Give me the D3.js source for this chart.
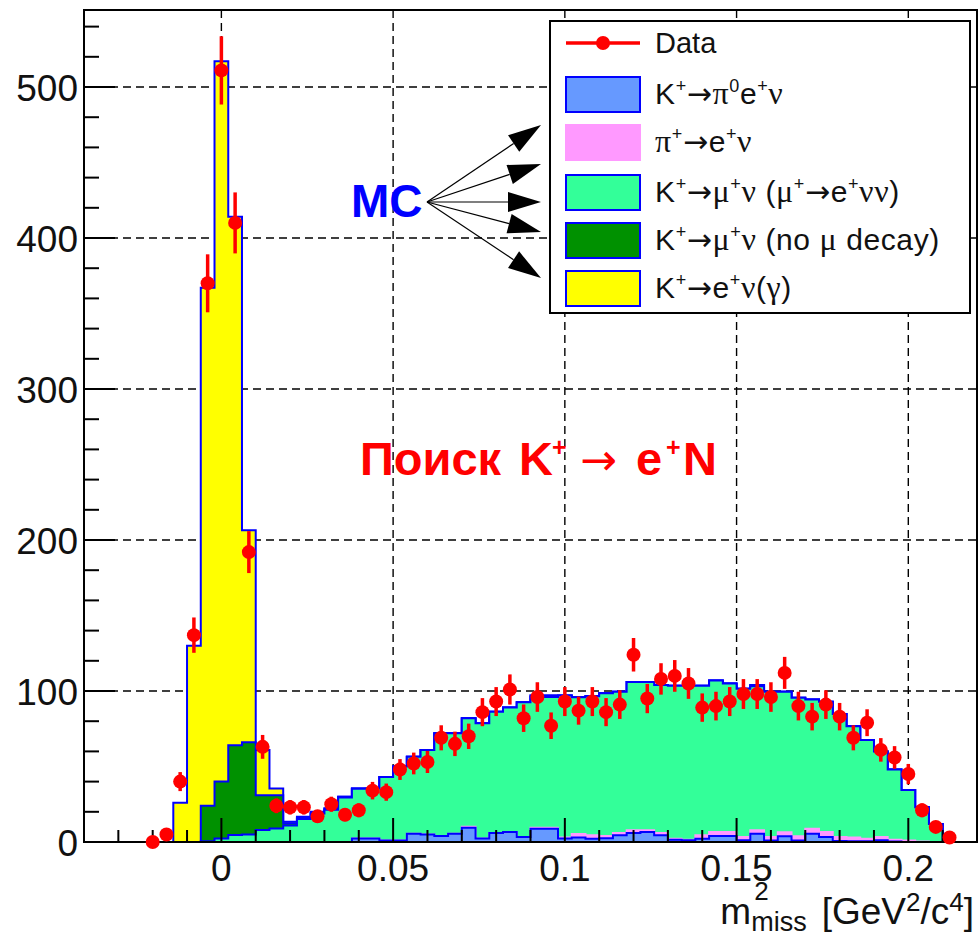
<!DOCTYPE html>
<html><head><meta charset="utf-8">
<script src="https://cdn.jsdelivr.net/npm/d3@7"></script>
<style>
body{margin:0;background:#fff;}
svg{display:block;}
text{font-family:"Liberation Sans",Arial,Helvetica,sans-serif;}
.gk{font-family:"Liberation Serif","DejaVu Serif",serif;}
.ar{font-family:"DejaVu Sans",sans-serif;}
</style>
</head><body>
<svg id="chart" width="980" height="935"></svg>
<script>
// ---------------- data ----------------
const binWidth = 0.004;
const binCenters = [-0.020,-0.016,-0.012,-0.008,-0.004,0.000,0.004,0.008,0.012,0.016,
  0.020,0.024,0.028,0.032,0.036,0.040,0.044,0.048,0.052,0.056,
  0.060,0.064,0.068,0.072,0.076,0.080,0.084,0.088,0.092,0.096,
  0.100,0.104,0.108,0.112,0.116,0.120,0.124,0.128,0.132,0.136,
  0.140,0.144,0.148,0.152,0.156,0.160,0.164,0.168,0.172,0.176,
  0.180,0.184,0.188,0.192,0.196,0.200,0.204,0.208,0.212];
const dataCounts = [0,5,40,137,370,511,410,192,63,24,
  23,23,17,25,18,21,34,33,48,52,
  53,69,65,70,86,93,101,82,96,77,
  93,87,93,86,91,124,95,108,110,105,
  89,90,93,98,98,96,112,90,83,91,
  83,69,79,61,56,45,21,10,3];
const dataErrors = [0,2.2,6.3,11.7,19.2,22.6,20.2,13.9,7.9,4.9,
  4.8,4.8,4.1,5.0,4.2,4.6,5.8,5.7,6.9,7.2,
  7.3,8.3,8.1,8.4,9.3,9.6,10.0,9.1,9.8,8.8,
  9.6,9.3,9.6,9.3,9.5,11.1,9.7,10.4,10.5,10.2,
  9.4,9.5,9.6,9.9,9.9,9.8,10.6,9.5,9.1,9.5,
  9.1,8.3,8.9,7.8,7.5,6.7,4.6,3.2,1.7];
// MC components (stacked bottom -> top)
const mcPi0ENu = [0,0,0,0,0,0,0,0,0,0,
  0,0,0,0,0,2.4,2.4,1,1,5.5,
  5,4,5.5,9.5,2.4,6,6.6,3.3,8.8,8.8,
  2.4,3,2.2,2.5,4.4,6,6.6,4.4,1.5,1.1,
  2.2,4,4,1.1,5.5,1,3.8,1,5.5,3.3,
  0.7,0.5,0.5,1.1,0.4,0,0,0,0];
const mcPiENu = [0,0,0,0,0,0,0,0,0,0,
  0,0,0,0,0,0,0,0,0,0,
  0,0,0,0.6,0,0,0,0,0.6,0.6,
  0.5,2.3,2.2,1.5,1.6,1.7,1.1,1.6,0.7,0.4,
  2.2,2.6,2.6,2.2,2.3,2.3,2.7,2.8,3.2,3.3,
  2.6,2.4,1.7,2.2,1.1,1.0,0.3,0,0];
const mcMuNuMuDecay = [0,0,0,0,0.5,2.4,4.6,5.0,8,9,
  11,15.3,18.8,21.4,29.5,32.8,33.1,42,49,51,
  56,68,66.5,71.9,76.2,80.3,82.4,89.2,86.6,86.6,
  94.1,90.5,92.1,94.5,93.5,98.3,98.3,98,101.3,102,
  99.1,100.4,98.4,98.2,95.4,96.2,93,91.7,85.6,86.3,
  81.4,73.8,65.3,56.7,46.5,33.4,22.7,12,0];
const mcMuNuNoDecay = [0,0,0,0,23.5,37.6,59.4,61,23,22,
  1.5,1.0,0.8,0.6,0.5,0.3,0,0,0,0,
  0,0,0,0,0,0,0,0,1,1,
  0,0,0,0,0,0,0,0,0,0,
  0,0,0,0,0.8,0,0,0,0,0,
  0,0,0,0,0,0,0,0,0];
const mcENuGamma = [0,0,26,130,343,477,350,140.5,30,4.5,
  0.9,0.5,0.4,0.3,0,0,0,0,0,0,
  0,0,0,0,0,0,0,0,0,0,
  0,0,0,0,0,0,0,0,0,0,
  0,0,0,0,0,0,0,0,0,0,
  0,0,0,0,0,0,0,0,0];

const xMajorTicks = [0,0.05,0.1,0.15,0.2];
const xTickLabels = ["0","0.05","0.1","0.15","0.2"];
const yMajorTicks = [0,100,200,300,400,500];
const yTickLabels = ["0","100","200","300","400","500"];

// ---------------- layout ----------------
const svg = d3.select("#chart");
const L = 84, R = 977, T = 10, B = 842;
const x = d3.scaleLinear().domain([-0.04, 0.22]).range([L, R]);
const y = d3.scaleLinear().domain([0, 551]).range([B, T]);

// grid
const grid = svg.append("g").attr("stroke","#000").attr("stroke-width",1.4).attr("stroke-dasharray","8,5");
xMajorTicks.forEach(v=>grid.append("line").attr("x1",x(v)).attr("x2",x(v)).attr("y1",T).attr("y2",B));
yMajorTicks.filter(v=>v>0).forEach(v=>grid.append("line").attr("x1",L).attr("x2",R).attr("y1",y(v)).attr("y2",y(v)));

// stacked MC
const layers = [
  {vals: mcPi0ENu,      fill:"#6699ff", stroke:"#0000ff"},
  {vals: mcPiENu,       fill:"#ff99ff", stroke:"#ff99ff"},
  {vals: mcMuNuMuDecay, fill:"#33ff99", stroke:"#0000ff"},
  {vals: mcMuNuNoDecay, fill:"#009100", stroke:"#0000ff"},
  {vals: mcENuGamma,    fill:"#ffff00", stroke:"#0000ff"}
];
let cum = binCenters.map(()=>0);
layers.forEach(l=>{ cum = cum.map((c,i)=>c+l.vals[i]); l.cum = cum; });
const hist = svg.append("g");
const areaGen = d3.area().x(d=>x(d[0])).y0(y(0)).y1(d=>y(d[1]));
const lineGen = d3.line().x(d=>x(d[0])).y(d=>y(d[1]));
layers.slice().reverse().forEach(l=>{
  const pts = [];
  binCenters.forEach((c,i)=>{ pts.push([c-binWidth/2, l.cum[i]], [c+binWidth/2, l.cum[i]]); });
  hist.append("path").attr("d", areaGen(pts)).attr("fill", l.fill);
  const outline = [[pts[0][0],0], ...pts, [pts[pts.length-1][0],0]];
  hist.append("path").attr("d", lineGen(outline)).attr("fill","none")
      .attr("stroke", l.stroke).attr("stroke-width",2);
});

// frame and axes
const ax = svg.append("g").attr("stroke","#000");
ax.append("rect").attr("x",L).attr("y",T).attr("width",R-L).attr("height",B-T)
  .attr("fill","none").attr("stroke-width",2);
d3.range(0, 551, 20).forEach(v=>{
  const major = v % 100 === 0;
  ax.append("line").attr("x1",L).attr("x2",L+(major?31:15)).attr("y1",y(v)).attr("y2",y(v)).attr("stroke-width",2);
});
d3.range(-40, 221, 10).forEach(m=>{
  const v = m/1000;
  const major = m % 50 === 0;
  ax.append("line").attr("x1",x(v)).attr("x2",x(v)).attr("y1",B).attr("y2",B-(major?24:12)).attr("stroke-width",2);
});
yMajorTicks.forEach((v,i)=>svg.append("text").attr("x",78).attr("y",y(v)+14)
  .attr("text-anchor","end").attr("font-size",37).attr("fill","#111").text(yTickLabels[i]));
xMajorTicks.forEach((v,i)=>svg.append("text").attr("x",x(v)).attr("y",881)
  .attr("text-anchor","middle").attr("font-size",37).attr("fill","#111").text(xTickLabels[i]));

// x-axis title: m^2_miss [GeV^2/c^4]
(function(){
  const g = svg.append("g").attr("fill","#111");
  const base = 924, fsMain = 37, fsSmall = 26;
  function mk(t, fs){ const el = g.append("text").attr("font-size",fs).text(t); return {el, w: el.node().getComputedTextLength()}; }
  const pm = mk("m", fsMain), p2 = mk("2", fsSmall), pmiss = mk("miss", 27);
  const seq = [[mk("[GeV", fsMain),0],[mk("2", fsSmall),-13],[mk("/c", fsMain),0],[mk("4", fsSmall),-13],[mk("]", fsMain),0]];
  const gap = 15;
  const total = pm.w + Math.max(p2.w, pmiss.w) + gap + seq.reduce((s,p)=>s+p[0].w,0);
  let cx = 974 - total;
  pm.el.attr("x",cx).attr("y",base); cx += pm.w;
  p2.el.attr("x",cx+3).attr("y",base-24);
  pmiss.el.attr("x",cx).attr("y",base+7);
  cx += Math.max(p2.w, pmiss.w) + gap;
  seq.forEach(p=>{ p[0].el.attr("x",cx).attr("y",base+p[1]); cx += p[0].w; });
})();

// data points
const dataG = svg.append("g").attr("fill","#ff0000").attr("stroke","#ff0000");
binCenters.forEach((c,i)=>{
  const v = dataCounts[i], e = dataErrors[i];
  if (e > 0) dataG.append("line").attr("x1",x(c)).attr("x2",x(c))
      .attr("y1",y(v-e)).attr("y2",y(v+e)).attr("stroke-width",3.5);
  dataG.append("circle").attr("cx",x(c)).attr("cy",y(v)).attr("r",7).attr("stroke","none");
});

// MC label and arrows
svg.append("text").attr("x",351).attr("y",217).attr("font-size",46).attr("font-weight","bold")
  .attr("fill","#0000ff").text("MC");
const arrowOrigin = [427, 202];
const arrowTips = [[541,125],[541,164],[541,202],[541,232],[541,278]];
arrowTips.forEach(tp=>{
  const dx = tp[0]-arrowOrigin[0], dy = tp[1]-arrowOrigin[1];
  const len = Math.hypot(dx,dy), ux = dx/len, uy = dy/len;
  const hl = 33, hw = 10;
  const bx = tp[0]-ux*hl, by = tp[1]-uy*hl;
  svg.append("line").attr("x1",arrowOrigin[0]).attr("y1",arrowOrigin[1]).attr("x2",bx).attr("y2",by)
    .attr("stroke","#000").attr("stroke-width",1.2);
  svg.append("polygon").attr("points",[[tp[0],tp[1]],[bx-uy*hw,by+ux*hw],[bx+uy*hw,by-ux*hw]].map(p=>p.join(",")).join(" "))
    .attr("fill","#000");
});

// red annotation
(function(){
  const g = svg.append("g").attr("fill","#ff0000");
  const base = 475;
  g.append("text").attr("x",360).attr("y",base).attr("font-size",47).attr("font-weight","bold").text("Поиск");
  g.append("text").attr("x",519).attr("y",base).attr("font-size",47).attr("font-weight","bold").text("K");
  g.append("text").attr("x",552).attr("y",456).attr("font-size",25).attr("font-weight","bold").text("+");
  g.append("text").attr("class","ar").attr("x",580).attr("y",base).attr("font-size",44).text("\u2192");
  g.append("text").attr("x",636).attr("y",base).attr("font-size",47).attr("font-weight","bold").text("e");
  g.append("text").attr("x",666).attr("y",456).attr("font-size",25).attr("font-weight","bold").text("+");
  g.append("text").attr("x",683).attr("y",base).attr("font-size",47).attr("font-weight","bold").text("N");
})();

// legend
(function(){
  const g = svg.append("g");
  g.append("rect").attr("x",550).attr("y",21).attr("width",420).attr("height",292)
    .attr("fill","#fff").attr("stroke","#000").attr("stroke-width",2);
  const rowY = [43, 94, 142, 192, 240, 288];
  g.append("line").attr("x1",566).attr("x2",640).attr("y1",rowY[0]).attr("y2",rowY[0])
    .attr("stroke","#ff0000").attr("stroke-width",3.5);
  g.append("circle").attr("cx",603).attr("cy",rowY[0]).attr("r",7).attr("fill","#ff0000");
  // parts: [text, kind] kind: 0 normal, 1 superscript, 2 greek, 3 arrow
  const entries = [
    {layer:0, parts:[["K",0],["+",1],["\u2192",3],["\u03c0",2],["0",1],["e",0],["+",1],["\u03bd",2]]},
    {layer:1, parts:[["\u03c0",2],["+",1],["\u2192",3],["e",0],["+",1],["\u03bd",2]]},
    {layer:2, parts:[["K",0],["+",1],["\u2192",3],["\u03bc",2],["+",1],["\u03bd",2],["\u00a0(",0],["\u03bc",2],["+",1],["\u2192",3],["e",0],["+",1],["\u03bd\u03bd",2],[")",0]]},
    {layer:3, parts:[["K",0],["+",1],["\u2192",3],["\u03bc",2],["+",1],["\u03bd",2],["\u00a0(no\u00a0",0],["\u03bc",2],["\u00a0decay)",0]]},
    {layer:4, parts:[["K",0],["+",1],["\u2192",3],["e",0],["+",1],["\u03bd",2],["(",0],["\u03b3",2],[")",0]]}
  ];
  g.append("text").attr("x",655).attr("y",rowY[0]+10).attr("font-size",29).attr("fill","#111").text("Data");
  entries.forEach((e,k)=>{
    const cy = rowY[k+1];
    const l = layers[e.layer];
    g.append("rect").attr("x",566).attr("y",cy-17).attr("width",74).attr("height",35)
      .attr("fill",l.fill).attr("stroke",l.stroke).attr("stroke-width",2);
    const t = g.append("text").attr("x",655).attr("y",cy+10).attr("font-size",30)
      .attr("letter-spacing",0.6).attr("fill","#111");
    let up = false;
    e.parts.forEach(p=>{
      const ts = t.append("tspan").text(p[0]);
      if (p[1] === 1) { ts.attr("font-size",18).attr("dy", up ? 0 : -12); up = true; }
      else {
        if (up) ts.attr("dy",12);
        up = false;
        if (p[1] === 2) ts.attr("class","gk").attr("font-size",32);
        if (p[1] === 3) ts.attr("class","ar").attr("font-size",30);
      }
    });
  });
})();
</script>
</body></html>
